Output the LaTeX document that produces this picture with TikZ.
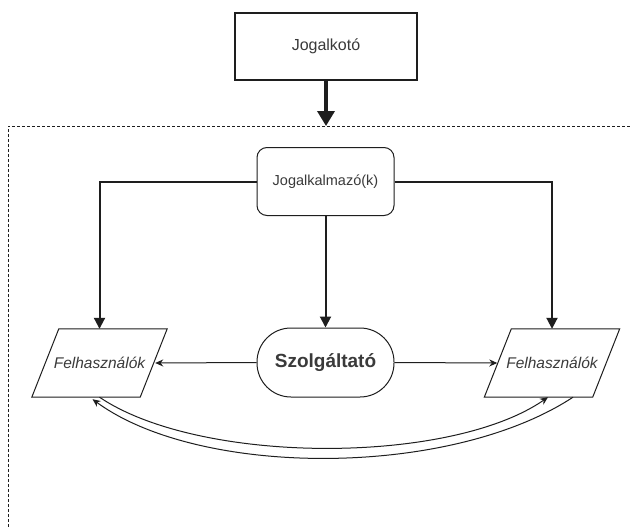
\documentclass[tikz,border=0pt]{standalone}
\usepackage{fontspec}
\setmainfont{Liberation Sans}
\usetikzlibrary{arrows.meta,calc}
\definecolor{txt}{HTML}{3A3A3A}
\definecolor{ln}{HTML}{1E1E1E}
\begin{document}
\begin{tikzpicture}[x=1pt,y=-1pt,
  box/.style={draw=ln,line width=1.4pt,minimum width=182pt,minimum height=67pt,inner sep=0pt,text=txt,font=\fontsize{16}{18}\selectfont},
  rbox/.style={draw=ln,line width=1pt,rounded corners=10pt,minimum width=137pt,minimum height=68pt,inner sep=0pt,text=txt,font=\fontsize{14.5}{18}\selectfont},
  pill/.style={draw=ln,line width=1pt,rounded corners=34pt,minimum width=137pt,minimum height=69pt,inner sep=0pt,text=txt,font=\fontsize{19}{22}\selectfont\bfseries},
  parabox/.style={minimum width=135pt,minimum height=68pt,inner sep=0pt,text=txt,font=\fontsize{15.5}{18}\selectfont\itshape},
  paraline/.style={draw=ln,line width=1pt,line join=miter},
  bigarrow/.style={draw=ln,line width=3.5pt,-{Triangle[length=15pt,width=17pt]}},
  midarrow/.style={draw=ln,line width=2pt,-{Triangle[length=11pt,width=11pt]}},
  thinarrow/.style={draw=ln,line width=1pt,-{Stealth[length=8pt,width=7pt]}},
  frame/.style={draw=ln,line width=0.9pt,dash pattern=on 3pt off 2pt}
]
\useasboundingbox (0,0) rectangle (632,527);
\fill[white] (0,0) rectangle (632,527);

\node[box] (jk) at (326,46.5) {Jogalkotó};
\coordinate (ftop) at (326,126);
\draw[frame] (8,527) -- (8,126) -- (632,126);
\draw[bigarrow] (jk.south) -- (ftop);

\node[rbox] (ja) at (325.5,181.5) {Jogalkalmazó(k)};
\node[pill] (sz) at (325.5,362.5) {Szolgáltató};
\node[parabox] (fl) at (99.5,363) {Felhasználók};
\node[parabox] (fr) at (552,363) {Felhasználók};
\foreach \p in {fl,fr}{
  \draw[paraline] (\p.south west) -- ([xshift=27pt]\p.north west) -- (\p.north east) -- ([xshift=-27pt]\p.south east) -- cycle;
}

\draw[midarrow] (ja.west) -| (fl.north);
\draw[midarrow] (ja.east) -| (fr.north);
\draw[midarrow] (ja.south) -- (sz.north);

\draw[thinarrow] (sz.west) -- ([xshift=-12pt]fl.east);
\draw[thinarrow] (sz.east) -- ([xshift=13pt]fr.west);

\draw[thinarrow] (fl.south) .. controls (200,465) and (450,465) .. ([xshift=-4pt]fr.south);
\draw[thinarrow] ([xshift=21pt]fr.south) .. controls (450,478) and (200,478) .. ([xshift=-7pt,yshift=-2pt]fl.south);
\end{tikzpicture}
\end{document}
